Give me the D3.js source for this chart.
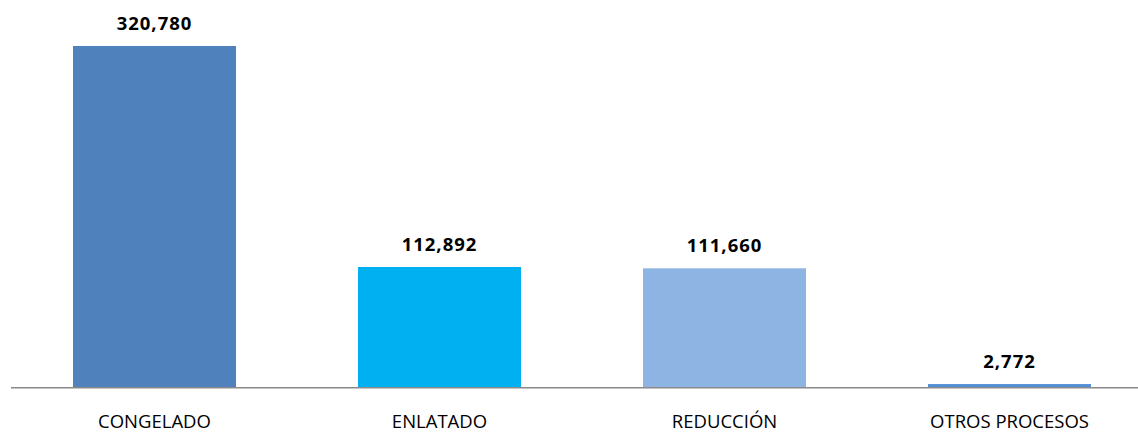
<!DOCTYPE html>
<html>
<head>
<meta charset="utf-8">
<script src="https://cdn.jsdelivr.net/npm/d3@7"></script>
<style>
  html, body { margin: 0; padding: 0; background: #fff; }
  svg { display: block; }
</style>
</head>
<body>
<svg id="chart" width="1138" height="433"></svg>
<script>
const categories = ["CONGELADO", "ENLATADO", "REDUCCIÓN", "OTROS PROCESOS"];
const values = [320780, 112892, 111660, 2772];
const colors = ["#4F81BD", "#00B0F0", "#8EB4E3", "#558ED5"];

const svg = d3.select("#chart");
const baseY = 387;

const x = d3.scaleBand()
  .domain(categories)
  .range([12, 1152])
  .paddingInner(0.428)
  .paddingOuter(0.214);

const y = d3.scaleLinear()
  .domain([0, 320780])
  .range([baseY, 46]);

const data = categories.map((c, i) => ({ c, v: values[i], color: colors[i] }));

svg.selectAll("rect.bar")
  .data(data)
  .enter().append("rect")
  .attr("class", "bar")
  .attr("x", d => x(d.c))
  .attr("y", d => y(d.v))
  .attr("width", x.bandwidth())
  .attr("height", d => baseY - y(d.v))
  .attr("fill", d => d.color);

// axis line
svg.append("line")
  .attr("x1", 11).attr("x2", 1138)
  .attr("y1", baseY + 0.75).attr("y2", baseY + 0.75)
  .attr("stroke", "#8a8a8a")
  .attr("stroke-width", 1.5);

const fmt = d3.format(",");

svg.selectAll("text.val")
  .data(data)
  .enter().append("text")
  .attr("class", "val")
  .attr("x", d => x(d.c) + x.bandwidth() / 2)
  .attr("y", d => y(d.v) - 16)
  .attr("text-anchor", "middle")
  .attr("font-family", "'Open Sans', sans-serif")
  .attr("font-weight", "bold")
  .attr("font-size", 18.5)
  .attr("letter-spacing", 1)
  .attr("fill", "#000")
  .text(d => fmt(d.v));

svg.selectAll("text.cat")
  .data(data)
  .enter().append("text")
  .attr("class", "cat")
  .attr("x", d => x(d.c) + x.bandwidth() / 2)
  .attr("y", 427.5)
  .attr("text-anchor", "middle")
  .attr("font-family", "'Open Sans', sans-serif")
  .attr("font-size", 18.5)
  .attr("fill", "#000")
  .text(d => d.c);
</script>
</body>
</html>
